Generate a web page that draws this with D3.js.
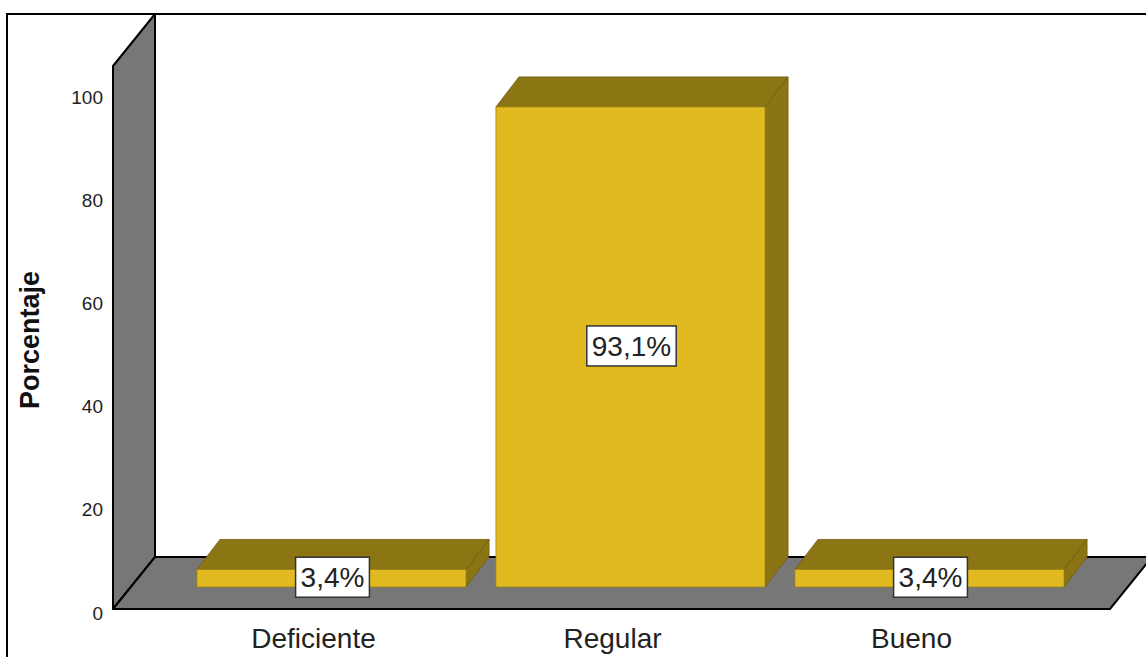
<!DOCTYPE html>
<html>
<head>
<meta charset="utf-8">
<script src="https://cdn.jsdelivr.net/npm/d3@7"></script>
<style>
  html, body { margin: 0; padding: 0; background: #ffffff; }
  svg { display: block; font-family: "Liberation Sans", Arial, sans-serif; }
</style>
</head>
<body>
<svg id="chart" width="1146" height="657"></svg>
<script>
// Distribution of responses (percentage of cases)
const categories = ["Deficiente", "Regular", "Bueno"];
const percentages = [3.4, 93.1, 3.4];
const valueLabels = ["3,4%", "93,1%", "3,4%"];
const yTicks = [0, 20, 40, 60, 80, 100];
const yTitle = "Porcentaje";

const svg = d3.select("#chart");
const W = 1146, H = 657;

// Front plane of the 3D box: value scale along the front wall edge
const y = d3.scaleLinear().domain([0, 105.3]).range([609, 66]);
const frontX = 113, floorRight = 1110;
const depth = { dx: 42, dy: -52 };        // full depth of floor / wall
const barPlane = { dx: 18, dy: -22 };     // where bar fronts stand inside the box
const barDepth = { dx: 23, dy: -30 };     // thickness of each bar

// Category positions measured on the bar front plane
const x = d3.scaleBand().domain(categories).range([182, 1079])
  .paddingInner(0.1).paddingOuter(0.05);

const colFront = "#e0ba20", colTop = "#8c7614", colSide = "#8a7413", colEdge = "#6e5c0e";
const grey = "#777777";

// Outer frame
svg.append("path")
  .attr("d", `M7,${H + 5} L7,14 L${W + 5},14`)
  .attr("fill", "none").attr("stroke", "#000").attr("stroke-width", 2);

// Side wall
const y0 = y(0), yTop = y.range()[1];
svg.append("path")
  .attr("d", `M${frontX},${yTop} L${frontX + depth.dx},${yTop + depth.dy} L${frontX + depth.dx},${y0 + depth.dy} L${frontX},${y0} Z`)
  .attr("fill", grey).attr("stroke", "#000").attr("stroke-width", 2).attr("stroke-linejoin", "round");

// Floor
svg.append("path")
  .attr("d", `M${frontX},${y0} L${frontX + depth.dx},${y0 + depth.dy} L${W + 10},${y0 + depth.dy} L${W + 10},${y0 + depth.dy + 2} L${floorRight + depth.dx},${y0 + depth.dy} L${floorRight},${y0} Z`)
  .attr("fill", grey).attr("stroke", "none");
svg.append("path")
  .attr("d", `M${frontX},${y0} L${floorRight},${y0} L${floorRight + depth.dx},${y0 + depth.dy}`)
  .attr("fill", "none").attr("stroke", "#000").attr("stroke-width", 2);
svg.append("path")
  .attr("d", `M${frontX},${y0} L${frontX + depth.dx},${y0 + depth.dy} L${W + 10},${y0 + depth.dy}`)
  .attr("fill", "none").attr("stroke", "#000").attr("stroke-width", 2);
svg.append("line")
  .attr("x1", frontX + depth.dx).attr("x2", frontX + depth.dx)
  .attr("y1", yTop + depth.dy).attr("y2", y0 + depth.dy)
  .attr("stroke", "#000").attr("stroke-width", 2);

// Y axis tick labels on the front wall edge
svg.append("g").selectAll("text").data(yTicks).join("text")
  .attr("x", 103).attr("y", d => y(d) + 10.5)
  .attr("text-anchor", "end").attr("font-size", 19).attr("fill", "#222")
  .text(d => d);

// Y axis title
svg.append("text")
  .attr("transform", "translate(39,340) rotate(-90)")
  .attr("text-anchor", "middle").attr("font-size", 27).attr("font-weight", "bold")
  .attr("fill", "#111").text(yTitle);

// 3D bars
const bars = svg.append("g").selectAll("g").data(categories).join("g");
bars.each(function (c, i) {
  const g = d3.select(this);
  const x0 = x(c) + 0, x1 = x(c) + x.bandwidth();
  const yb = y(0) + barPlane.dy, yt = y(percentages[i]) + barPlane.dy;
  const dx = barDepth.dx, dy = barDepth.dy;
  g.append("path") // top face
    .attr("d", `M${x0},${yt} L${x0 + dx},${yt + dy} L${x1 + dx},${yt + dy} L${x1},${yt} Z`)
    .attr("fill", colTop).attr("stroke", colEdge).attr("stroke-width", 0.8);
  g.append("path") // side face
    .attr("d", `M${x1},${yt} L${x1 + dx},${yt + dy} L${x1 + dx},${yb + dy} L${x1},${yb} Z`)
    .attr("fill", colSide).attr("stroke", colEdge).attr("stroke-width", 0.8);
  g.append("rect") // front face
    .attr("x", x0).attr("y", yt).attr("width", x1 - x0).attr("height", yb - yt)
    .attr("fill", colFront).attr("stroke", "#9c8418").attr("stroke-width", 0.8);
});

// Value labels in white boxes
const labels = svg.append("g").selectAll("g").data(categories).join("g");
labels.each(function (c, i) {
  const g = d3.select(this);
  const cx = x(c) + x.bandwidth() / 2 + 1;
  const cy = (y(0) + y(percentages[i])) / 2 + barPlane.dy - 1;
  const t = g.append("text")
    .attr("x", cx).attr("y", cy + 10)
    .attr("text-anchor", "middle").attr("font-size", 28).attr("fill", "#222")
    .text(valueLabels[i]);
  const bb = t.node().getBBox();
  g.insert("rect", "text")
    .attr("x", cx - bb.width / 2 - 5).attr("y", cy - 20)
    .attr("width", bb.width + 10).attr("height", 40)
    .attr("fill", "#fff").attr("stroke", "#333").attr("stroke-width", 1.5);
});

// Category labels under the floor
svg.append("g").selectAll("text").data(categories).join("text")
  .attr("x", c => x(c) + x.bandwidth() / 2 - 18)
  .attr("y", 648)
  .attr("text-anchor", "middle").attr("font-size", 28).attr("fill", "#222")
  .text(c => c);
</script>
</body>
</html>
